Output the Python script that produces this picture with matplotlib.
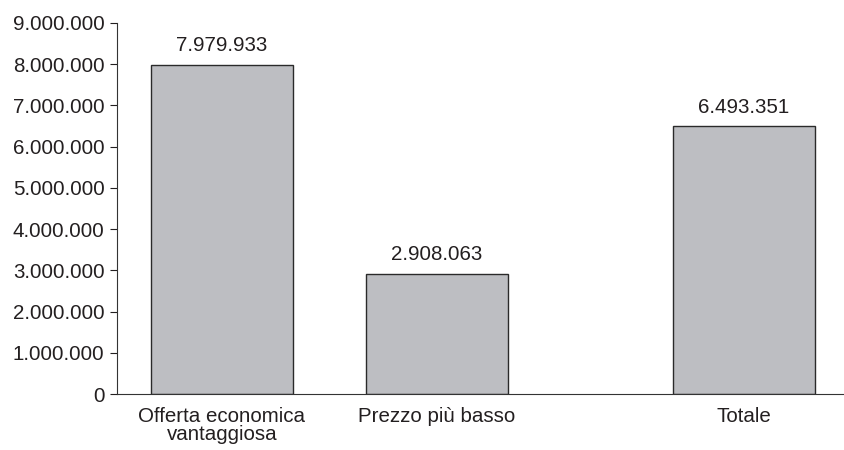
import matplotlib
matplotlib.use("Agg")
import matplotlib.pyplot as plt
from matplotlib.ticker import FuncFormatter

categories = ["Offerta economica\nvantaggiosa", "Prezzo più basso", "Totale"]
values = [7979933, 2908063, 6493351]
yticks = [0, 1000000, 2000000, 3000000, 4000000, 5000000, 6000000, 7000000, 8000000, 9000000]

def fmt(v):
    return f"{int(round(v)):,}".replace(",", ".")

plt.rcParams['font.family'] = ['Liberation Sans', 'DejaVu Sans']
txt = '#231f20'
fs = 14.8

fig = plt.figure(figsize=(8.45, 4.5), dpi=100)
ax = fig.add_axes([117/845, 1-394/450, 1-117/845, (394-23)/450])

positions = [0, 1, 2.428]
bars = ax.bar(positions, values, width=0.66, color='#bdbec2', edgecolor='#2a2a2a', linewidth=1.0)
for b, v in zip(bars, values):
    ax.annotate(fmt(v), (b.get_x() + b.get_width()/2, v), xytext=(0, 7),
                textcoords='offset points', ha='center', va='bottom', fontsize=fs, color=txt)

ax.set_xlim(-0.488, 2.898)
ax.set_ylim(0, 9000000)
ax.set_yticks(yticks)
ax.yaxis.set_major_formatter(FuncFormatter(lambda v, p: fmt(v)))
ax.set_xticks(positions)
ax.set_xticklabels(categories, linespacing=1.0)
ax.tick_params(axis='x', length=0, pad=9, labelsize=fs, colors=txt)
ax.tick_params(axis='y', length=5, width=0.8, direction='out', labelsize=fs, colors=txt, pad=4)
ax.spines['top'].set_visible(False)
ax.spines['right'].set_visible(False)
ax.spines['left'].set_color('#333333')
ax.spines['bottom'].set_color('#333333')
ax.spines['left'].set_linewidth(0.8)
ax.spines['bottom'].set_linewidth(0.8)
ax.set_axisbelow(True)

fig.savefig("out.png", dpi=100)
